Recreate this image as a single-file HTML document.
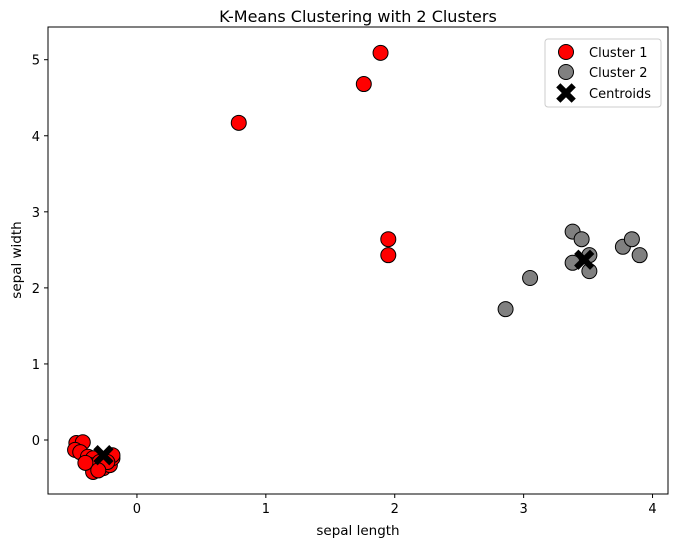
<!DOCTYPE html>
<html><head><meta charset="utf-8"><style>
body{margin:0;background:#fff;}
svg text{font-family:"DejaVu Sans","Liberation Sans",sans-serif;fill:#000;}
</style></head><body>
<svg id="chart" width="678" height="547" viewBox="0 0 678 547" xmlns="http://www.w3.org/2000/svg">
<rect width="678" height="547" fill="#fff"/>
<text x="358" y="22" font-size="16" text-anchor="middle">K-Means Clustering with 2 Clusters</text>
<g id="marks"></g>
<rect x="48" y="27" width="620" height="467" fill="none" stroke="#000" stroke-width="1"/>
<g id="axes"></g>
<text x="358" y="535" font-size="13.5" text-anchor="middle">sepal length</text>
<text x="0" y="0" font-size="13.5" text-anchor="middle" transform="translate(21,260) rotate(-90)">sepal width</text>
<g>
<rect x="545" y="39" width="116" height="68" rx="3" fill="#fff" fill-opacity="0.8" stroke="#ccc"/>
<g><circle cx="566" cy="52" r="7.5" fill="#f00" stroke="#000"/><text x="589" y="57" font-size="13">Cluster 1</text></g>
<g><circle cx="566" cy="72" r="7.5" fill="#808080" stroke="#000"/><text x="589" y="77" font-size="13">Cluster 2</text></g>
<g><path d="M-7,-4 L-4,-7 L0,-3 L4,-7 L7,-4 L3,0 L7,4 L4,7 L0,3 L-4,7 L-7,4 L-3,0 Z" transform="translate(566,93) scale(1.4)" fill="#000"/><text x="589" y="98" font-size="13">Centroids</text></g>
</g>
</svg>
<script>
const cluster1X=[1.89,1.76,0.79,1.95,1.95,-0.47,-0.42,-0.48,-0.44,-0.38,-0.34,-0.36,-0.31,-0.34,-0.26,-0.21,-0.19,-0.19,-0.29,-0.23,-0.40,-0.30];
const cluster1Y=[5.09,4.68,4.17,2.64,2.43,-0.04,-0.03,-0.13,-0.16,-0.22,-0.24,-0.33,-0.36,-0.42,-0.37,-0.33,-0.24,-0.20,-0.29,-0.29,-0.30,-0.40];
const cluster2X=[2.86,3.05,3.38,3.45,3.38,3.51,3.51,3.77,3.84,3.90];
const cluster2Y=[1.72,2.13,2.74,2.64,2.33,2.43,2.22,2.54,2.64,2.43];
const centroidX=[-0.26,3.47];
const centroidY=[-0.20,2.37];
const xTicks=[0,1,2,3,4];
const yTicks=[0,1,2,3,4,5];
const xMin=-0.69,xMax=4.12,yMin=-0.71,yMax=5.43;
const L=48,R=668,T=27,B=494;
const sx=v=>L+(v-xMin)/(xMax-xMin)*(R-L);
const sy=v=>B-(v-yMin)/(yMax-yMin)*(B-T);
const NS="http://www.w3.org/2000/svg";
const marks=document.getElementById('marks');
const axes=document.getElementById('axes');
function dot(x,y,fill,name){
  const c=document.createElementNS(NS,'circle');
  c.setAttribute('cx',sx(x));c.setAttribute('cy',sy(y));c.setAttribute('r',7.5);
  c.setAttribute('fill',fill);c.setAttribute('stroke','#000');c.setAttribute('stroke-width','1');
  
  
  marks.appendChild(c);
}
cluster1X.forEach((x,i)=>dot(x,cluster1Y[i],'#f00','cluster-1-point'));
cluster2X.forEach((x,i)=>dot(x,cluster2Y[i],'#808080','cluster-2-point'));
centroidX.forEach((x,i)=>{
  const p=document.createElementNS(NS,'path');
  p.setAttribute('d','M-7,-4 L-4,-7 L0,-3 L4,-7 L7,-4 L3,0 L7,4 L4,7 L0,3 L-4,7 L-7,4 L-3,0 Z');
  p.setAttribute('transform','translate('+sx(x)+','+sy(centroidY[i])+') scale(1.45)');
  p.setAttribute('fill','#000');
  
  
  marks.appendChild(p);
});
xTicks.forEach(v=>{
  const l=document.createElementNS(NS,'line');
  l.setAttribute('x1',sx(v));l.setAttribute('x2',sx(v));l.setAttribute('y1',B);l.setAttribute('y2',B+4);l.setAttribute('stroke','#000');
  
  
  axes.appendChild(l);
  const t=document.createElementNS(NS,'text');
  t.setAttribute('x',sx(v));t.setAttribute('y',B+19);t.setAttribute('font-size','13');t.setAttribute('text-anchor','middle');
  t.textContent=v;
  
  
  axes.appendChild(t);
});
yTicks.forEach(v=>{
  const l=document.createElementNS(NS,'line');
  l.setAttribute('x1',L-4);l.setAttribute('x2',L);l.setAttribute('y1',sy(v));l.setAttribute('y2',sy(v));l.setAttribute('stroke','#000');
  
  
  axes.appendChild(l);
  const t=document.createElementNS(NS,'text');
  t.setAttribute('x',L-8);t.setAttribute('y',sy(v)+5);t.setAttribute('font-size','13');t.setAttribute('text-anchor','end');
  t.textContent=v;
  
  
  axes.appendChild(t);
});
</script>
</body></html>
